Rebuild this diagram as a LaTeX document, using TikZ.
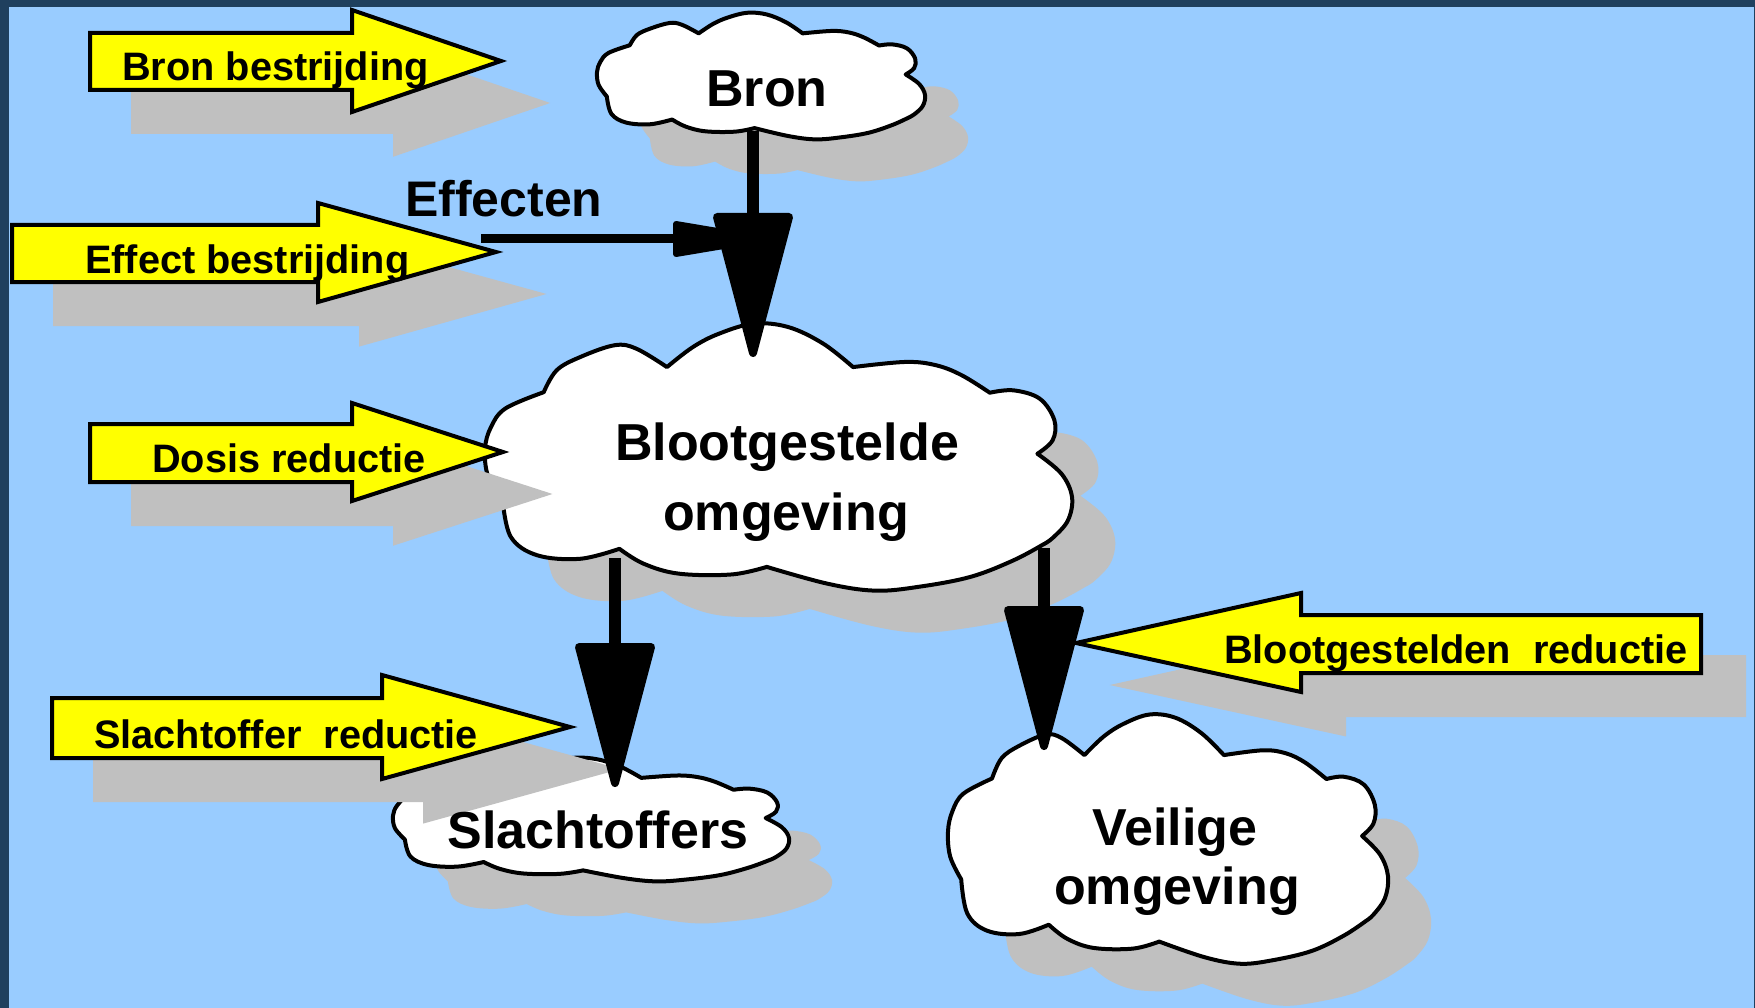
\documentclass[tikz,border=0pt]{standalone}
\usepackage{fontspec}
\setmainfont{Liberation Sans}
\usetikzlibrary{calc}
\definecolor{bgblue}{RGB}{153,204,255}
\definecolor{navyband}{RGB}{31,64,94}
\definecolor{shadowgray}{RGB}{192,192,192}
\definecolor{arrowyellow}{RGB}{255,255,0}

% cloud outline in a unit box (y down), placed at (x,y) with width w and height h
\newcommand\mycloud[5]{%
  \begin{scope}[shift={(#2,#3)},xscale=#4,yscale=#5]
    \path[#1]
      plot[smooth,tension=0.6] coordinates{(0.100,0.260)(0.122,0.179)(0.162,0.130)(0.221,0.086)(0.258,0.099)(0.310,0.167)}
      -- plot[smooth,tension=0.6] coordinates{(0.310,0.167)(0.354,0.093)(0.399,0.043)(0.458,0.006)(0.517,0.019)(0.576,0.080)(0.627,0.167)}
      -- plot[smooth,tension=0.6] coordinates{(0.627,0.167)(0.716,0.148)(0.768,0.160)(0.812,0.197)(0.860,0.262)}
      -- plot[smooth,tension=0.6] coordinates{(0.860,0.262)(0.900,0.253)(0.945,0.284)(0.970,0.364)(0.967,0.438)(0.941,0.488)}
      -- plot[smooth,tension=0.6] coordinates{(0.941,0.488)(0.982,0.562)(1.000,0.648)(0.993,0.735)(0.967,0.800)(0.950,0.825)}
      -- plot[smooth,tension=0.6] coordinates{(0.950,0.825)(0.900,0.883)(0.827,0.944)(0.738,0.981)(0.664,0.995)(0.583,0.969)(0.480,0.907)}
      -- plot[smooth,tension=0.6] coordinates{(0.480,0.907)(0.420,0.935)(0.330,0.932)(0.270,0.895)(0.229,0.840)}
      -- plot[smooth,tension=0.6] coordinates{(0.229,0.840)(0.162,0.877)(0.089,0.864)(0.044,0.796)(0.030,0.660)}
      -- plot[smooth,tension=0.6] coordinates{(0.030,0.660)(0.005,0.570)(0.000,0.470)(0.010,0.390)(0.035,0.320)(0.100,0.260)}
      -- cycle;
  \end{scope}}

% yellow block arrow with its grey shadow
\newcommand\yarr[1]{%
  \path[yshadow,shift={(43,42)}] #1 -- cycle;
  \path[yarrow] #1 -- cycle;}

% thick black connector with a big rounded head
\newcommand\blackconn[2]{%
  \draw[shaft] (#1) -- ($(#2)+(0,-130)$);
  \path[headtip] ($(#2)+(-36,-136)$) -- ($(#2)+(36,-136)$) -- (#2) -- cycle;}

\begin{document}
\begin{tikzpicture}[x=1pt,y=-1pt,
  yarrow/.style={fill=arrowyellow,draw=black,line width=4pt,line join=miter},
  yshadow/.style={fill=shadowgray,draw=shadowgray,line width=4pt,line join=miter},
  cloudbody/.style={fill=white,draw=black,line width=4pt,line join=round},
  cloudshadow/.style={fill=shadowgray},
  shaft/.style={line width=12pt,draw=black},
  headtip/.style={fill=black,draw=black,line width=8pt,line join=round},
  bigtxt/.style={font=\fontsize{52}{62}\selectfont\bfseries,inner sep=0pt},
  smalltxt/.style={font=\fontsize{39.7}{48}\selectfont\bfseries,inner sep=0pt},
  efftxt/.style={font=\fontsize{50}{60}\selectfont\bfseries,inner sep=0pt}]

\useasboundingbox (0,0) rectangle (1755,1008);
% background and frame
\fill[bgblue] (0,0) rectangle (1755,1008);
\fill[navyband] (0,0) rectangle (9,1008);
\fill[navyband] (0,0) rectangle (1755,7);
\fill[navyband] (1754,0) rectangle (1755,1008);

% cloud shadows
\mycloud{cloudshadow}{640}{54}{328}{128}
\mycloud{cloudshadow}{528}{364}{587}{270}
\mycloud{cloudshadow}{436}{799}{396}{125}
\mycloud{cloudshadow}{991}{755}{440}{252}
% clouds
\mycloud{cloudbody}{597}{12}{328}{128}
\mycloud{cloudbody}{485}{322}{587}{270}
\mycloud{cloudbody}{393}{757}{396}{125}
\mycloud{cloudbody}{948}{713}{440}{252}

% yellow arrows
\yarr{(90,33) -- (352,33) -- (352,10) -- (501,61) -- (352,112) -- (352,90) -- (90,90)}
\yarr{(12,225) -- (318,225) -- (318,203) -- (496,252) -- (318,302) -- (318,282) -- (12,282)}
\yarr{(90,424) -- (352,424) -- (352,403) -- (503,452) -- (352,501) -- (352,482) -- (90,482)}
\yarr{(52,698) -- (382,698) -- (382,675) -- (570,727) -- (382,779) -- (382,758) -- (52,758)}
\yarr{(1701,615) -- (1301,615) -- (1301,593) -- (1076,643) -- (1301,692) -- (1301,673) -- (1701,673)}

% connector end points
\coordinate (effS) at (481,239);
\coordinate (effT) at (765,239);
\coordinate (bronBot) at (753,131);
\coordinate (blootTop) at (753,353);
\coordinate (blootBL) at (615,558);
\coordinate (slachTop) at (615,783);
\coordinate (blootBR) at (1044,548);
\coordinate (veilTop) at (1044,746);

% Effecten connector
\draw[line width=9pt] (effS) -- ($(effT)+(-88,0)$);
\path[headtip,line width=6pt] ($(effT)+(-89,-15)$) -- ($(effT)+(-89,15)$) -- (effT) -- cycle;

% black connectors
\blackconn{bronBot}{blootTop}
\blackconn{blootBL}{slachTop}
\blackconn{blootBR}{veilTop}

% texts
\node[smalltxt,anchor=base west] (tBB) at (122,81) {Bron bestrijding};
\node[smalltxt,anchor=base west] (tEB) at (85,273) {Effect bestrijding};
\node[smalltxt,anchor=base west] (tDR) at (152,472) {Dosis reductie};
\node[smalltxt,anchor=base west] (tSR) at (94,748) {Slachtoffer~ reductie};
\node[smalltxt,anchor=base west] (tBR) at (1224,663) {Blootgestelden~ reductie};
\node[efftxt,anchor=base west] (tEff) at (405,217) {Effecten};
\node[bigtxt,anchor=base] (tBron) at (767,107) {Bron};
\node[bigtxt,anchor=base] (tBloot1) at (787,460) {Blootgestelde};
\node[bigtxt,anchor=base] (tBloot2) at (786,530) {omgeving};
\node[bigtxt,anchor=base] (tSlach) at (598,848) {Slachtoffers};
\node[bigtxt,anchor=base] (tVeil1) at (1175,845) {Veilige};
\node[bigtxt,anchor=base] (tVeil2) at (1177,904) {omgeving};
\end{tikzpicture}
\end{document}
